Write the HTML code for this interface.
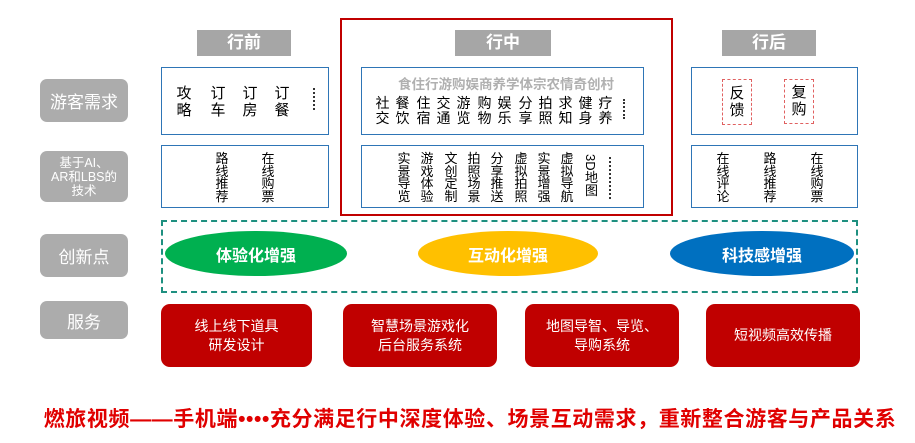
<!DOCTYPE html>
<html><head><meta charset="utf-8"><style>
body{margin:0;width:915px;height:443px;background:#fff;position:relative;overflow:hidden;font-family:"Liberation Sans","Noto Sans CJK SC",sans-serif;}
.a{position:absolute;box-sizing:border-box;}
.hdr{background:#a6a6a6;color:#fff;font-size:17px;font-weight:bold;text-align:center;line-height:26px;}
.lbl{background:#acacac;color:#fff;border-radius:7px;text-align:center;display:flex;align-items:center;justify-content:center;}
.bx{border:1.5px solid #2e75b6;}
.v{position:absolute;font-size:15px;line-height:17px;color:#000;width:16px;text-align:center;}
.v2{position:absolute;font-size:13px;line-height:12.5px;color:#000;width:14px;text-align:center;}
.dot{position:absolute;border-left:2px dotted #333;}
.ell{position:absolute;border-radius:50%;color:#fff;font-weight:bold;font-size:16px;display:flex;align-items:center;justify-content:center;}
.svc{position:absolute;background:#c00000;border-radius:9px;color:#fff;font-size:14px;line-height:19px;display:flex;align-items:center;justify-content:center;text-align:center;}
</style></head><body>
<div class="a hdr" style="left:197px;top:30px;width:94px;height:26px;">行前</div>
<div class="a hdr" style="left:455px;top:30px;width:96px;height:26px;">行中</div>
<div class="a hdr" style="left:722px;top:30px;width:94px;height:26px;">行后</div>
<div class="a" style="left:340px;top:18px;width:333px;height:198px;border:2.5px solid #c00000;"></div>

<div class="a lbl" style="left:40px;top:79px;width:88px;height:43px;font-size:17px;">游客需求</div>
<div class="a lbl" style="left:40px;top:151px;width:88px;height:51px;font-size:12.5px;line-height:14px;">基于AI、<br>AR和LBS的<br>技术</div>
<div class="a lbl" style="left:40px;top:234px;width:88px;height:43px;font-size:17px;">创新点</div>
<div class="a lbl" style="left:40px;top:301px;width:88px;height:38px;font-size:17px;">服务</div>

<div class="a bx" style="left:161px;top:67px;width:168px;height:68px;"></div>
<div class="a bx" style="left:361px;top:67px;width:283px;height:68px;"></div>
<div class="a bx" style="left:691px;top:67px;width:167px;height:68px;"></div>
<div class="a bx" style="left:161px;top:145px;width:168px;height:63px;"></div>
<div class="a bx" style="left:361px;top:145px;width:283px;height:63px;"></div>
<div class="a bx" style="left:691px;top:145px;width:167px;height:63px;"></div>

<div class="v" style="left:176px;top:85px">攻<br>略</div>
<div class="v" style="left:210px;top:85px">订<br>车</div>
<div class="v" style="left:242px;top:85px">订<br>房</div>
<div class="v" style="left:274px;top:85px">订<br>餐</div>
<div class="dot" style="left:313px;top:88px;height:22px"></div>

<div class="a" style="left:361px;top:73px;width:290px;text-align:center;color:#b0b0b0;font-weight:bold;font-size:13.5px;">食住行游购娱商养学体宗农情奇创村</div>
<div class="v" style="left:375px;top:96px;font-size:14px;line-height:15px;width:15px">社<br>交</div>
<div class="v" style="left:395px;top:96px;font-size:14px;line-height:15px;width:15px">餐<br>饮</div>
<div class="v" style="left:416px;top:96px;font-size:14px;line-height:15px;width:15px">住<br>宿</div>
<div class="v" style="left:436px;top:96px;font-size:14px;line-height:15px;width:15px">交<br>通</div>
<div class="v" style="left:456px;top:96px;font-size:14px;line-height:15px;width:15px">游<br>览</div>
<div class="v" style="left:477px;top:96px;font-size:14px;line-height:15px;width:15px">购<br>物</div>
<div class="v" style="left:497px;top:96px;font-size:14px;line-height:15px;width:15px">娱<br>乐</div>
<div class="v" style="left:518px;top:96px;font-size:14px;line-height:15px;width:15px">分<br>享</div>
<div class="v" style="left:538px;top:96px;font-size:14px;line-height:15px;width:15px">拍<br>照</div>
<div class="v" style="left:558px;top:96px;font-size:14px;line-height:15px;width:15px">求<br>知</div>
<div class="v" style="left:578px;top:96px;font-size:14px;line-height:15px;width:15px">健<br>身</div>
<div class="v" style="left:598px;top:96px;font-size:14px;line-height:15px;width:15px">疗<br>养</div>
<div class="dot" style="left:623px;top:99px;height:20px"></div>

<div class="a" style="left:722px;top:79px;width:30px;height:46px;border:1.5px dashed #e06060;"></div>
<div class="a" style="left:784px;top:79px;width:30px;height:45px;border:1.5px dashed #e06060;"></div>
<div class="v" style="left:729px;top:85px">反<br>馈</div>
<div class="v" style="left:791px;top:84px">复<br>购</div>

<div class="v2" style="left:215px;top:153px">路<br>线<br>推<br>荐</div>
<div class="v2" style="left:261px;top:153px">在<br>线<br>购<br>票</div>
<div class="v2" style="left:397px;top:153px">实<br>景<br>导<br>览</div>
<div class="v2" style="left:420px;top:153px">游<br>戏<br>体<br>验</div>
<div class="v2" style="left:444px;top:153px">文<br>创<br>定<br>制</div>
<div class="v2" style="left:467px;top:153px">拍<br>照<br>场<br>景</div>
<div class="v2" style="left:490px;top:153px">分<br>享<br>推<br>送</div>
<div class="v2" style="left:514px;top:153px">虚<br>拟<br>拍<br>照</div>
<div class="v2" style="left:537px;top:153px">实<br>景<br>增<br>强</div>
<div class="v2" style="left:560px;top:153px">虚<br>拟<br>导<br>航</div>
<div class="a" style="left:583px;top:154px;font-size:13px;line-height:14px;writing-mode:vertical-rl;color:#000">3D地图</div>
<div class="dot" style="left:609px;top:157px;height:42px"></div>
<div class="v2" style="left:716px;top:153px">在<br>线<br>评<br>论</div>
<div class="v2" style="left:763px;top:153px">路<br>线<br>推<br>荐</div>
<div class="v2" style="left:810px;top:153px">在<br>线<br>购<br>票</div>

<div class="a" style="left:161px;top:220px;width:697px;height:73px;border:2px dashed #1e9080;"></div>
<div class="ell" style="left:165px;top:231px;width:182px;height:45px;background:#00b050;">体验化增强</div>
<div class="ell" style="left:418px;top:231px;width:180px;height:45px;background:#ffc000;">互动化增强</div>
<div class="ell" style="left:670px;top:231px;width:184px;height:45px;background:#0070c0;">科技感增强</div>

<div class="svc" style="left:161px;top:304px;width:151px;height:63px;">线上线下道具<br>研发设计</div>
<div class="svc" style="left:343px;top:304px;width:154px;height:63px;">智慧场景游戏化<br>后台服务系统</div>
<div class="svc" style="left:525px;top:304px;width:154px;height:63px;">地图导智、导览、<br>导购系统</div>
<div class="svc" style="left:706px;top:304px;width:154px;height:63px;">短视频高效传播</div>

<div class="a" style="left:0;top:403px;width:940px;text-align:center;color:#e00000;font-weight:bold;font-size:21px;letter-spacing:0.6px;white-space:nowrap;">燃旅视频——手机端••••充分满足行中深度体验、场景互动需求，重新整合游客与产品关系</div>
</body></html>
